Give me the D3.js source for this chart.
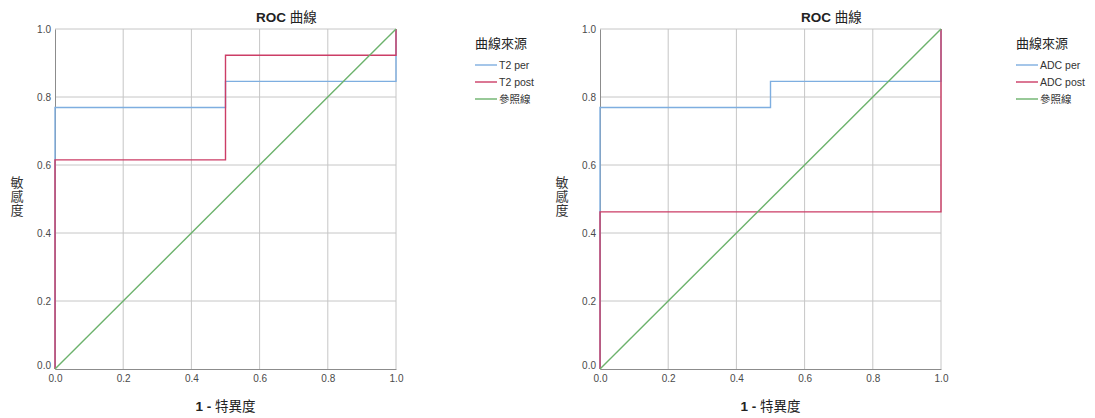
<!DOCTYPE html>
<html>
<head>
<meta charset="utf-8">
<script src="https://cdn.jsdelivr.net/npm/d3@7"></script>
<style>
  html, body { margin: 0; padding: 0; background: #fff; }
  svg { display: block; }
  text { font-family: "Liberation Sans", Arial, "Noto Sans CJK TC", sans-serif; }
</style>
</head>
<body>
<svg id="chart" width="1095" height="418"></svg>
<script>
// Axis ticks and labels
const tickValues = [0, 0.2, 0.4, 0.6, 0.8, 1.0];
const chartTitle = ["ROC", " 曲線"];
const xTitle = ["1 - ", "特異度"];
const yTitle = ["敏", "感", "度"];
const legendTitle = "曲線來源";

// Left panel: T2 curves as (1 - specificity, sensitivity) step points
const t2PerFpr  = [0, 0,     0.5,   0.5,   1.0,   1.0];
const t2PerTpr  = [0, 0.769, 0.769, 0.846, 0.846, 1.0];
const t2PostFpr = [0, 0,     0.5,   0.5,   1.0,   1.0];
const t2PostTpr = [0, 0.615, 0.615, 0.923, 0.923, 1.0];

// Right panel: ADC curves
const adcPerFpr  = [0, 0,     0.5,   0.5,   1.0,   1.0];
const adcPerTpr  = [0, 0.769, 0.769, 0.846, 0.846, 1.0];
const adcPostFpr = [0, 0,     1.0,   1.0];
const adcPostTpr = [0, 0.462, 0.462, 1.0];

// Diagonal reference line
const refFpr = [0, 1];
const refTpr = [0, 1];

const colors = { per: "#7eaee0", post: "#cc3d66", ref: "#6cb26c" };

const panels = [
  {
    left: 55,
    names: ["T2 per", "T2 post", "參照線"],
    series: [
      { x: t2PerFpr, y: t2PerTpr, color: colors.per },
      { x: t2PostFpr, y: t2PostTpr, color: colors.post },
      { x: refFpr, y: refTpr, color: colors.ref }
    ],
    legendX: 475
  },
  {
    left: 600,
    names: ["ADC per", "ADC post", "參照線"],
    series: [
      { x: adcPerFpr, y: adcPerTpr, color: colors.per },
      { x: adcPostFpr, y: adcPostTpr, color: colors.post },
      { x: refFpr, y: refTpr, color: colors.ref }
    ],
    legendX: 1016
  }
];

const svg = d3.select("#chart");
const plotTop = 29, plotH = 340, plotW = 341;

// Text with a bold latin part followed by a regular-weight CJK part
function mixedText(sel, parts) {
  sel.append("tspan").attr("font-weight", "bold").text(parts[0]);
  sel.append("tspan").attr("font-weight", "normal").text(parts[1]);
}

panels.forEach(p => {
  const x = d3.scaleLinear().domain([0, 1]).range([p.left, p.left + plotW]);
  const y = d3.scaleLinear().domain([0, 1]).range([plotTop + plotH, plotTop]);
  const g = svg.append("g");

  // grid lines
  g.append("g").selectAll("line").data(tickValues.slice(1)).join("line")
    .attr("x1", d => x(d)).attr("x2", d => x(d))
    .attr("y1", y(0)).attr("y2", y(1))
    .attr("stroke", "#c6c6c6").attr("stroke-width", 1);
  g.append("g").selectAll("line").data(tickValues.slice(1)).join("line")
    .attr("x1", x(0)).attr("x2", x(1))
    .attr("y1", d => y(d)).attr("y2", d => y(d))
    .attr("stroke", "#c6c6c6").attr("stroke-width", 1);

  // axes
  const xAxis = d3.axisBottom(x).tickValues(tickValues).tickFormat(d3.format(".1f")).tickSize(0).tickPadding(6);
  const gx = g.append("g").attr("transform", `translate(0,${y(0)})`).call(xAxis);
  gx.select(".domain").attr("stroke", "#8c8c8c");
  gx.selectAll("text").attr("font-size", 10).attr("fill", "#4a4a4a")
    .attr("font-family", "'Liberation Sans', Arial, sans-serif");

  const yAxis = d3.axisLeft(y).tickValues(tickValues).tickFormat(d3.format(".1f")).tickSize(0).tickPadding(4);
  const gy = g.append("g").attr("transform", `translate(${x(0)},0)`).call(yAxis);
  gy.select(".domain").attr("stroke", "#8c8c8c");
  gy.selectAll("text").attr("font-size", 10).attr("fill", "#4a4a4a")
    .attr("font-family", "'Liberation Sans', Arial, sans-serif");
  gy.selectAll(".tick").filter(d => d === 0).select("text").attr("dy", "-0.05em");

  // curves
  const line = d3.line().x(d => x(d[0])).y(d => y(d[1]));
  p.series.forEach(s => {
    const pts = s.x.map((v, i) => [v, s.y[i]]);
    g.append("path").datum(pts).attr("d", line)
      .attr("fill", "none").attr("stroke", s.color).attr("stroke-width", 1.4);
  });

  // titles
  g.append("text").attr("x", x(0.5) + 61).attr("y", 22)
    .attr("text-anchor", "middle").attr("font-size", 13.5)
    .attr("fill", "#222").call(mixedText, chartTitle);
  g.append("text").attr("x", x(0.5)).attr("y", 411)
    .attr("text-anchor", "middle").attr("font-size", 13.5)
    .attr("fill", "#222").call(mixedText, xTitle);
  yTitle.forEach((c, i) => {
    g.append("text").attr("x", p.left - 38).attr("y", 187 + i * 14)
      .attr("text-anchor", "middle").attr("font-size", 13)
      .attr("fill", "#333").text(c);
  });

  // legend
  const lg = g.append("g");
  lg.append("text").attr("x", p.legendX).attr("y", 48)
    .attr("font-size", 13).attr("fill", "#222").text(legendTitle);
  p.series.forEach((s, i) => {
    const yy = 65 + i * 17;
    lg.append("line").attr("x1", p.legendX).attr("x2", p.legendX + 22)
      .attr("y1", yy).attr("y2", yy).attr("stroke", s.color).attr("stroke-width", 1.4);
    lg.append("text").attr("x", p.legendX + 24).attr("y", yy + 3.5)
      .attr("font-size", 10.5).attr("fill", "#333").text(p.names[i]);
  });
});
</script>
</body>
</html>
